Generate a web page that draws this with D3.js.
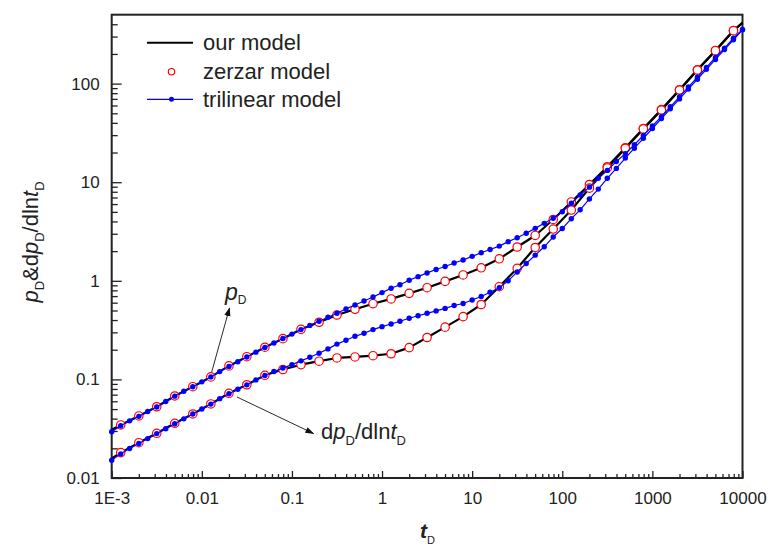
<!DOCTYPE html>
<html><head><meta charset="utf-8">
<script src="https://cdn.jsdelivr.net/npm/d3@7"></script>
<style>
body{margin:0;background:#fff}
svg{display:block}
text{font-family:"Liberation Sans",Arial,sans-serif;fill:#222}
</style>
</head><body><svg id="c" width="769" height="547"></svg>
<script>
// ---- data ----
const xTicks = [1e-3, 1e-2, 1e-1, 1, 10, 100, 1000, 10000];
const xTickLabels = ["1E-3", "0.01", "0.1", "1", "10", "100", "1000", "10000"];
const yTicks = [0.01, 0.1, 1, 10, 100];
const yTickLabels = ["0.01", "0.1", "1", "10", "100"];
const seriesNames = ["our model", "zerzar model", "trilinear model"];

// our model (black line)
const tOur = [1e-3, 1.26e-3, 2e-3, 3.16e-3, 5.01e-3, 7.94e-3, 1.26e-2, 2e-2, 3.16e-2, 5.01e-2, 7.94e-2,
  0.126, 0.2, 0.316, 0.501, 0.794, 1.26, 2, 3.16, 5.01, 7.94, 12.6, 20, 31.6, 50.1, 79.4,
  126, 200, 316, 501, 794, 1260, 2000, 3160, 5010, 7940, 10000];
const ourPD = [0.0309, 0.0345, 0.0426, 0.0528, 0.0679, 0.0843, 0.106, 0.137, 0.170, 0.212, 0.259,
  0.322, 0.380, 0.450, 0.514, 0.586, 0.655, 0.746, 0.851, 0.986, 1.146, 1.355, 1.671, 2.203, 2.884, 4.188,
  6.31, 9.48, 14.35, 22.4, 35.1, 54.5, 86.7, 138.0, 216.8, 346, 417];
const ourDPD = [0.0158, 0.0181, 0.0228, 0.0284, 0.0359, 0.0446, 0.0564, 0.0723, 0.0883, 0.110, 0.126,
  0.141, 0.153, 0.165, 0.169, 0.174, 0.182, 0.210, 0.266, 0.339, 0.433, 0.575, 0.871, 1.340, 2.178, 3.350,
  5.22, 8.71, 13.96, 22.1, 34.7, 54.0, 86.1, 137.4, 215.8, 344, 412];

// zerzar model (red circles)
const tZerzar = [1.26e-3, 2e-3, 3.16e-3, 5.01e-3, 7.94e-3, 1.26e-2, 2e-2, 3.16e-2, 5.01e-2, 7.94e-2,
  0.126, 0.2, 0.316, 0.501, 0.794, 1.26, 2, 3.16, 5.01, 7.94, 12.6, 20, 31.6, 50.1, 79.4,
  126, 200, 316, 501, 794, 1260, 2000, 3160, 5010, 7940];
const zerzarPD = [0.0345, 0.0426, 0.0528, 0.0679, 0.0843, 0.106, 0.137, 0.170, 0.212, 0.259,
  0.322, 0.380, 0.450, 0.514, 0.586, 0.655, 0.746, 0.851, 0.986, 1.146, 1.355, 1.671, 2.203, 2.884, 4.188,
  6.31, 9.48, 14.35, 22.4, 35.1, 54.5, 86.7, 138.0, 216.8, 346];
const zerzarDPD = [0.0181, 0.0228, 0.0284, 0.0359, 0.0446, 0.0564, 0.0723, 0.0883, 0.110, 0.126,
  0.141, 0.153, 0.165, 0.169, 0.174, 0.182, 0.210, 0.266, 0.339, 0.433, 0.575, 0.871, 1.340, 2.178, 3.350,
  5.22, 8.71, 13.96, 22.1, 34.7, 54.0, 86.1, 137.4, 215.8, 344];

// trilinear model (blue line + dots)
const tTri = [1e-3, 1.26e-3, 1.58e-3, 2e-3, 2.51e-3, 3.16e-3, 3.98e-3, 5.01e-3, 6.31e-3, 7.94e-3,
  1e-2, 1.26e-2, 1.58e-2, 2e-2, 2.51e-2, 3.16e-2, 3.98e-2, 5.01e-2, 6.31e-2, 7.94e-2,
  0.1, 0.126, 0.158, 0.2, 0.251, 0.316, 0.398, 0.501, 0.631, 0.794,
  1, 1.26, 1.58, 2, 2.51, 3.16, 3.98, 5.01, 6.31, 7.94,
  10, 12.6, 15.8, 20, 25.1, 31.6, 39.8, 50.1, 63.1, 79.4,
  100, 126, 158, 200, 251, 316, 398, 501, 631, 794,
  1000, 1260, 1580, 2000, 2510, 3160, 3980, 5010, 6310, 7940, 10000];
const triPD = [0.0295, 0.0339, 0.0380, 0.0422, 0.0473, 0.0525, 0.0596, 0.0676, 0.0759, 0.0841,
  0.0944, 0.106, 0.120, 0.1355, 0.151, 0.169, 0.189, 0.211, 0.234, 0.260,
  0.288, 0.320, 0.353, 0.389, 0.427, 0.468, 0.519, 0.569, 0.624, 0.684,
  0.759, 0.841, 0.912, 1.012, 1.102, 1.202, 1.303, 1.396, 1.514, 1.626,
  1.770, 1.928, 2.080, 2.249, 2.495, 2.735, 3.034, 3.404, 3.828, 4.305,
  5.023, 6.109, 7.413, 8.913, 10.96, 13.18, 16.22, 19.50, 23.99, 29.85,
  37.15, 46.24, 58.21, 73.28, 92.26, 116.1, 146.2, 184.1, 229.1, 288.4, 354.8];
const triDPD = [0.01514, 0.01758, 0.01995, 0.0224, 0.0251, 0.0282, 0.0316, 0.0355, 0.0398, 0.0445,
  0.0501, 0.0562, 0.0638, 0.0716, 0.0794, 0.0881, 0.0989, 0.1096, 0.1202, 0.1303,
  0.1413, 0.1542, 0.1675, 0.184, 0.204, 0.228, 0.2495, 0.2735, 0.294, 0.320,
  0.343, 0.365, 0.389, 0.417, 0.442, 0.468, 0.4955, 0.525, 0.562, 0.589,
  0.638, 0.692, 0.767, 0.851, 1.0, 1.230, 1.496, 1.820, 2.213, 2.786,
  3.388, 4.266, 5.248, 6.761, 8.511, 10.96, 13.80, 17.58, 22.13, 27.86,
  35.08, 44.16, 55.59, 69.98, 88.10, 110.9, 139.6, 175.8, 221.3, 278.6, 350.8];

// ---- drawing ----
const svg = d3.select("#c");
const L = 111.7, R = 742.5, T = 14.7, B = 478;
const x = d3.scaleLog().domain([1e-3, 1e4]).range([L, R]);
const y = d3.scaleLog().domain([0.01, 500]).range([B, T]);

function minorTicks(scale) {
  const [a, b] = scale.domain();
  const out = [];
  for (let e = Math.floor(Math.log10(a)); e <= Math.ceil(Math.log10(b)); e++) {
    for (let m = 2; m <= 9; m++) {
      const v = m * Math.pow(10, e);
      if (v > a && v < b) out.push(v);
    }
  }
  return out;
}

// axes
const gx = svg.append("g").attr("transform", `translate(0,${B})`);
gx.call(d3.axisBottom(x).tickValues(xTicks).tickFormat((d, i) => xTickLabels[i])
  .tickSizeInner(-7).tickSizeOuter(0).tickPadding(14));
const gxm = svg.append("g").attr("transform", `translate(0,${B})`);
gxm.call(d3.axisBottom(x).tickValues(minorTicks(x)).tickFormat("").tickSizeInner(-4).tickSizeOuter(0));

const gy = svg.append("g").attr("transform", `translate(${L},0)`);
gy.call(d3.axisLeft(y).tickValues(yTicks).tickFormat((d, i) => yTickLabels[i])
  .tickSizeInner(-10).tickSizeOuter(0).tickPadding(12));
const gym = svg.append("g").attr("transform", `translate(${L},0)`);
gym.call(d3.axisLeft(y).tickValues(minorTicks(y)).tickFormat("").tickSizeInner(-6).tickSizeOuter(0));

svg.selectAll(".domain").remove();
svg.selectAll(".tick line").attr("stroke", "#222").attr("stroke-width", 1.3);
svg.selectAll(".tick text").style("font-size", "17px").style("font-family", '"Liberation Sans",Arial,sans-serif').attr("fill", "#222");

// frame
svg.append("rect").attr("x", L).attr("y", T).attr("width", R - L).attr("height", B - T)
  .attr("fill", "none").attr("stroke", "#222").attr("stroke-width", 2);

const line = (ts, vs) => d3.line().x((d, i) => x(ts[i])).y(d => y(d))(vs);

// our model lines
[ourPD, ourDPD].forEach(vs => {
  svg.append("path").attr("d", line(tOur, vs)).attr("fill", "none")
    .attr("stroke", "#000").attr("stroke-width", 2.2).attr("stroke-linejoin", "round");
});

// zerzar circles
[zerzarPD, zerzarDPD].forEach(vs => {
  svg.append("g").selectAll("circle").data(vs).join("circle")
    .attr("cx", (d, i) => x(tZerzar[i])).attr("cy", d => y(d)).attr("r", 4.2)
    .attr("fill", "#fff").attr("stroke", "#ff0000").attr("stroke-width", 1.2);
});

// trilinear
[triPD, triDPD].forEach(vs => {
  svg.append("path").attr("d", line(tTri, vs)).attr("fill", "none")
    .attr("stroke", "#0000ff").attr("stroke-width", 1.2);
  svg.append("g").selectAll("circle").data(vs).join("circle")
    .attr("cx", (d, i) => x(tTri[i])).attr("cy", d => y(d)).attr("r", 2.7)
    .attr("fill", "#0000ff");
});

// legend
const lg = svg.append("g");
const ly = [42.7, 71.7, 99.3];
lg.append("line").attr("x1", 147).attr("x2", 193).attr("y1", ly[0]).attr("y2", ly[0]).attr("stroke", "#000").attr("stroke-width", 2);
lg.append("circle").attr("cx", 171.5).attr("cy", ly[1]).attr("r", 3.2).attr("fill", "#fff").attr("stroke", "#ff0000").attr("stroke-width", 1.2);
lg.append("line").attr("x1", 147).attr("x2", 193).attr("y1", ly[2]).attr("y2", ly[2]).attr("stroke", "#0000ff").attr("stroke-width", 1.2);
lg.append("circle").attr("cx", 171.5).attr("cy", ly[2]).attr("r", 2.5).attr("fill", "#0000ff");
seriesNames.forEach((n, i) => {
  lg.append("text").attr("x", 203).attr("y", ly[i] + 7.5).style("font-size", "22px").text(n);
});

// axis titles
const xt = svg.append("text").attr("x", 420).attr("y", 538).style("font-size", "21px");
xt.append("tspan").style("font-style", "italic").style("font-weight", "bold").text("t");
xt.append("tspan").attr("dy", 6).style("font-size", "11px").text("D");

const yt = svg.append("text").attr("transform", "translate(38,242) rotate(-90)").attr("text-anchor", "middle").style("font-size", "22px");
yt.append("tspan").style("font-style", "italic").text("p");
yt.append("tspan").attr("dy", 6).style("font-size", "13px").text("D");
yt.append("tspan").attr("dy", -6).text("&d");
yt.append("tspan").style("font-style", "italic").text("p");
yt.append("tspan").attr("dy", 6).style("font-size", "13px").text("D");
yt.append("tspan").attr("dy", -6).text("/dln");
yt.append("tspan").style("font-style", "italic").text("t");
yt.append("tspan").attr("dy", 6).style("font-size", "13px").text("D");

// annotations
const defs = svg.append("defs");
defs.append("marker").attr("id", "ah").attr("viewBox", "0 0 10 10").attr("refX", 9).attr("refY", 5)
  .attr("markerWidth", 9).attr("markerHeight", 9).attr("markerUnits", "userSpaceOnUse").attr("orient", "auto")
  .append("path").attr("d", "M0,1.5 L10,5 L0,8.5 Z").attr("fill", "#111");

svg.append("line").attr("x1", 211.7).attr("y1", 372).attr("x2", 229.5).attr("y2", 308)
  .attr("stroke", "#111").attr("stroke-width", 0.9).attr("marker-end", "url(#ah)");
svg.append("line").attr("x1", 237).attr("y1", 397).attr("x2", 313.5).attr("y2", 433.5)
  .attr("stroke", "#111").attr("stroke-width", 0.9).attr("marker-end", "url(#ah)");

const a1 = svg.append("text").attr("x", 225).attr("y", 300).style("font-size", "23px");
a1.append("tspan").style("font-style", "italic").text("p");
a1.append("tspan").attr("dy", 4).style("font-size", "12px").text("D");

const a2 = svg.append("text").attr("x", 321).attr("y", 439).style("font-size", "22px");
a2.append("tspan").text("d");
a2.append("tspan").style("font-style", "italic").text("p");
a2.append("tspan").attr("dy", 6).style("font-size", "13px").text("D");
a2.append("tspan").attr("dy", -6).text("/dln");
a2.append("tspan").style("font-style", "italic").text("t");
a2.append("tspan").attr("dy", 6).style("font-size", "13px").text("D");
</script></body></html>
